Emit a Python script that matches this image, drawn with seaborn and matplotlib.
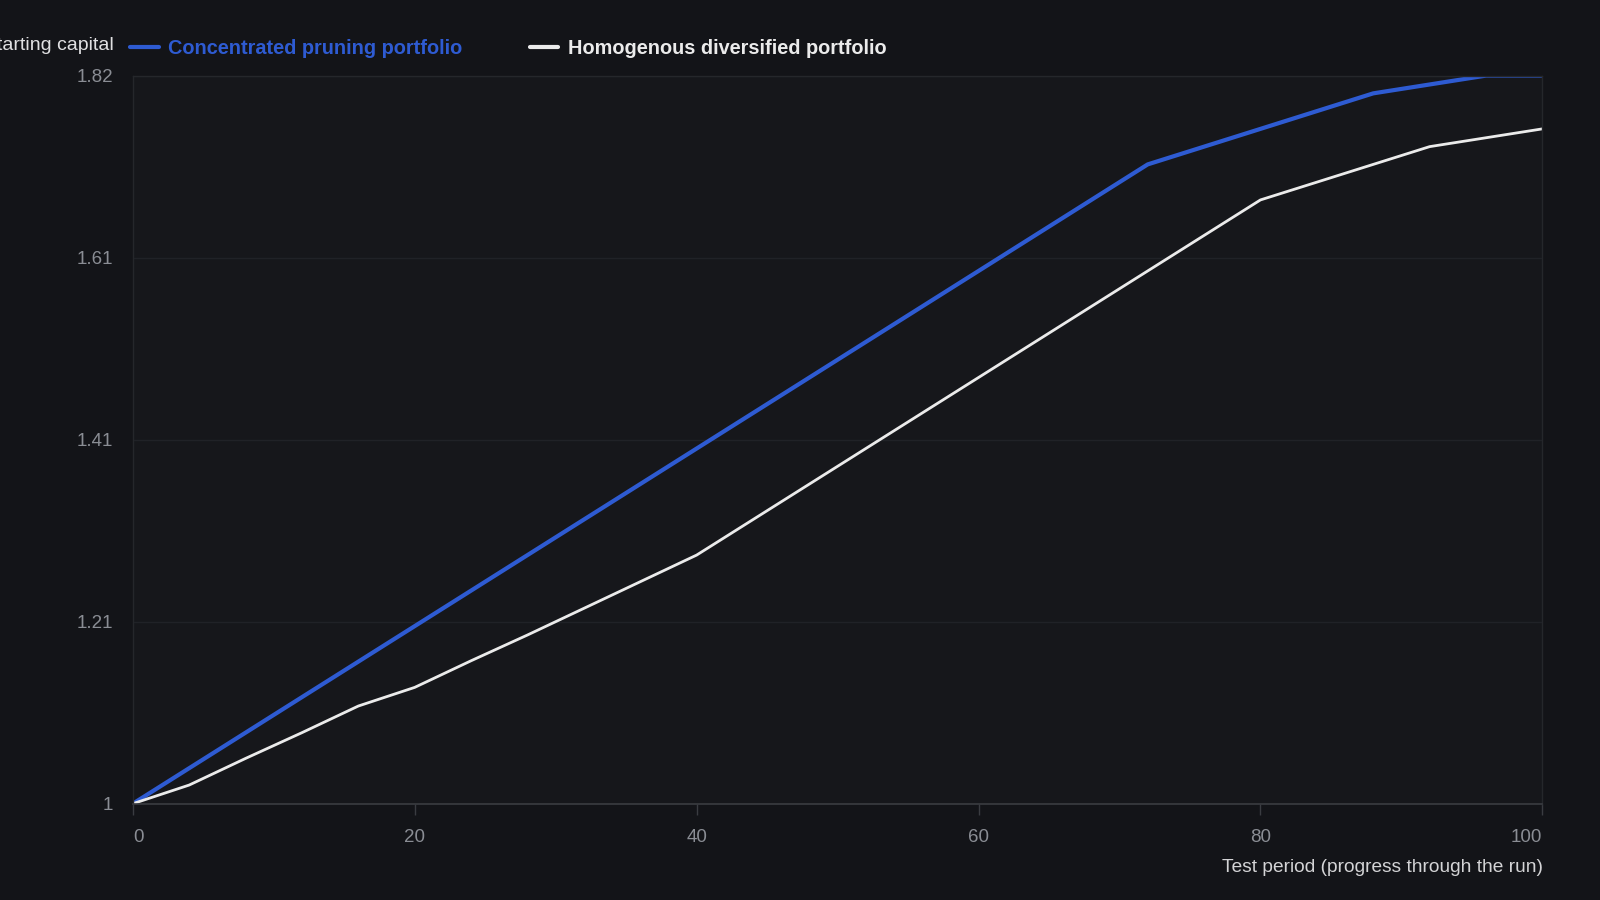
import matplotlib
matplotlib.use("Agg")
import matplotlib.pyplot as plt
import pandas as pd
import seaborn as sns

# Test period (percent of the run)
progress = [0, 4, 8, 12, 16, 20, 24, 28, 32, 36, 40, 44, 48, 52,
            56, 60, 64, 68, 72, 76, 80, 84, 88, 92, 96, 100]

# Multiple of starting capital
concentrated = [1.00, 1.04, 1.08, 1.12, 1.16, 1.20, 1.24, 1.28, 1.32, 1.36,
                1.40, 1.44, 1.48, 1.52, 1.56, 1.60, 1.64, 1.68, 1.72, 1.74,
                1.76, 1.78, 1.80, 1.81, 1.82, 1.82]
homogenous = [1.000, 1.021, 1.051, 1.080, 1.110, 1.131, 1.161, 1.190, 1.220,
              1.250, 1.280, 1.320, 1.360, 1.400, 1.440, 1.480, 1.520, 1.560,
              1.600, 1.640, 1.680, 1.700, 1.720, 1.740, 1.750, 1.760]

y_ticks = [1.0, 1.205, 1.41, 1.615, 1.82]
y_tick_labels = ["1", "1.21", "1.41", "1.61", "1.82"]
x_ticks = [0, 20, 40, 60, 80, 100]

df = pd.DataFrame({
    "progress": progress,
    "Concentrated pruning portfolio": concentrated,
    "Homogenous diversified portfolio": homogenous,
})

bg = "#131418"
face = "#16171b"
blue = "#2e5bd2"
white = "#ebebeb"
tick_col = "#8a8d94"

sns.set_theme(style="dark")
plt.rcParams["font.family"] = ["Liberation Sans", "DejaVu Sans"]

fig = plt.figure(figsize=(16, 9), dpi=100, facecolor=bg)
ax = fig.add_axes([0.083, 0.107, 0.881, 0.809])
ax.set_facecolor(face)

sns.lineplot(data=df, x="progress", y="Concentrated pruning portfolio",
             ax=ax, color=blue, linewidth=3.0, label="Concentrated pruning portfolio")
sns.lineplot(data=df, x="progress", y="Homogenous diversified portfolio",
             ax=ax, color=white, linewidth=2.0, label="Homogenous diversified portfolio")

ax.set_xlim(0, 100)
ax.set_ylim(1.0, 1.82)
ax.set_xticks(x_ticks)
ax.set_xticklabels([str(t) for t in x_ticks])
ax.set_yticks(y_ticks)
ax.set_yticklabels(y_tick_labels)

ax.grid(axis="y", color="#202227", linewidth=1)
ax.grid(axis="x", visible=False)
for side in ["left", "right", "top"]:
    ax.spines[side].set_color("#25272b")
    ax.spines[side].set_linewidth(1)
ax.spines["bottom"].set_color("#3a3c41")
ax.spines["bottom"].set_linewidth(1.2)

ax.tick_params(axis="x", colors=tick_col, labelsize=13.5, length=8, width=1, pad=10,
               bottom=True)
ax.tick_params(axis="x", color="#3a3c41")
ax.tick_params(axis="y", colors=tick_col, labelsize=13.5, length=0, pad=14)

# end labels stay inside the axis span
xlabels = ax.get_xticklabels()
xlabels[0].set_horizontalalignment("left")
xlabels[-1].set_horizontalalignment("right")

ax.set_xlabel("")
ax.set_ylabel("")
fig.text(1543 / 1600, 1 - 867 / 900, "Test period (progress through the run)",
         ha="right", va="center", color="#d4d4d6", fontsize=13.8)
fig.text(114 / 1600, 1 - 46 / 900, "Starting capital",
         ha="right", va="center", color="#e0e0e2", fontsize=14)

leg = ax.legend(loc="center left", bbox_to_anchor=(-0.002, 1.037), ncol=2,
                frameon=False, handlelength=1.45, handletextpad=0.46,
                columnspacing=3.4, fontsize=14.3, borderaxespad=0, borderpad=0)
for txt, col in zip(leg.get_texts(), [blue, white]):
    txt.set_color(col)
    txt.set_fontweight("bold")
for line in leg.get_lines():
    line.set_linewidth(3.0)

fig.savefig("out.png", dpi=100, facecolor=bg)
